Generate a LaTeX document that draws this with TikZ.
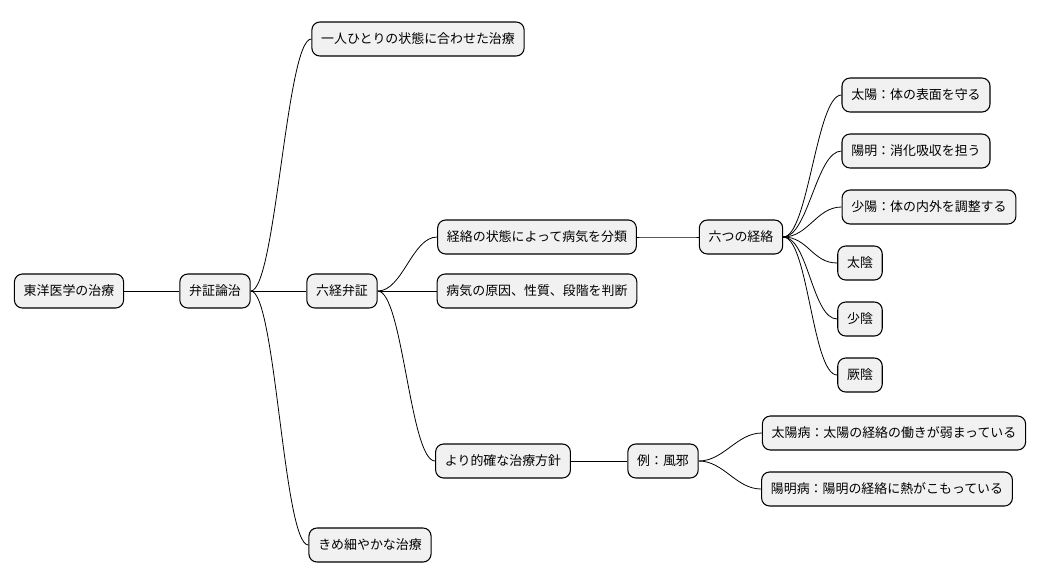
\documentclass[tikz,border=0pt]{standalone}
\usepackage{fontspec}
\usetikzlibrary{calc}
\setmainfont{Noto Sans CJK JP}
\begin{document}
\begin{tikzpicture}[x=0.75pt,y=-0.75pt,
  box/.style={draw=black,fill={rgb,255:red,241;green,241;blue,241},rounded corners=6pt,line width=0.8pt,minimum height=25.5pt,inner xsep=7pt,font=\fontsize{9.7pt}{11pt}\selectfont},
  ed/.style={draw=black,line width=0.6pt}]
\useasboundingbox (0,0) rectangle (1048,583);
\node[box] (r) at (69,291) {東洋医学の治療};
\node[box] (b) at (215,291) {弁証論治};
\node[box] (a1) at (418,39) {一人ひとりの状態に合わせた治療};
\node[box] (a2) at (342,291) {六経弁証};
\node[box] (a3) at (370,545) {きめ細やかな治療};
\node[box] (c1) at (537,237) {経絡の状態によって病気を分類};
\node[box] (c2) at (537,291) {病気の原因、性質、段階を判断};
\node[box] (c3) at (503,461) {より的確な治療方針};
\node[box] (d) at (741,237) {六つの経絡};
\node[box] (e1) at (916,95) {太陽：体の表面を守る};
\node[box] (e2) at (916,151) {陽明：消化吸収を担う};
\node[box] (e3) at (929,207) {少陽：体の内外を調整する};
\node[box] (e4) at (860,263) {太陰};
\node[box] (e5) at (860,319) {少陰};
\node[box] (e6) at (860,375) {厥陰};
\node[box] (f) at (663,461) {例：風邪};
\node[box] (g1) at (894,433) {太陽病：太陽の経絡の働きが弱まっている};
\node[box] (g2) at (887,489) {陽明病：陽明の経絡に熱がこもっている};
\foreach \p/\c in {r/b,b/a1,b/a2,b/a3,a2/c1,a2/c2,a2/c3,c1/d,d/e1,d/e2,d/e3,d/e4,d/e5,d/e6,c3/f,f/g1,f/g2}
  \draw[ed] (\p.east) .. controls ($(\p.east)+(25,0)$) and ($(\c.west)+(-25,0)$) .. (\c.west);
\end{tikzpicture}
\end{document}
